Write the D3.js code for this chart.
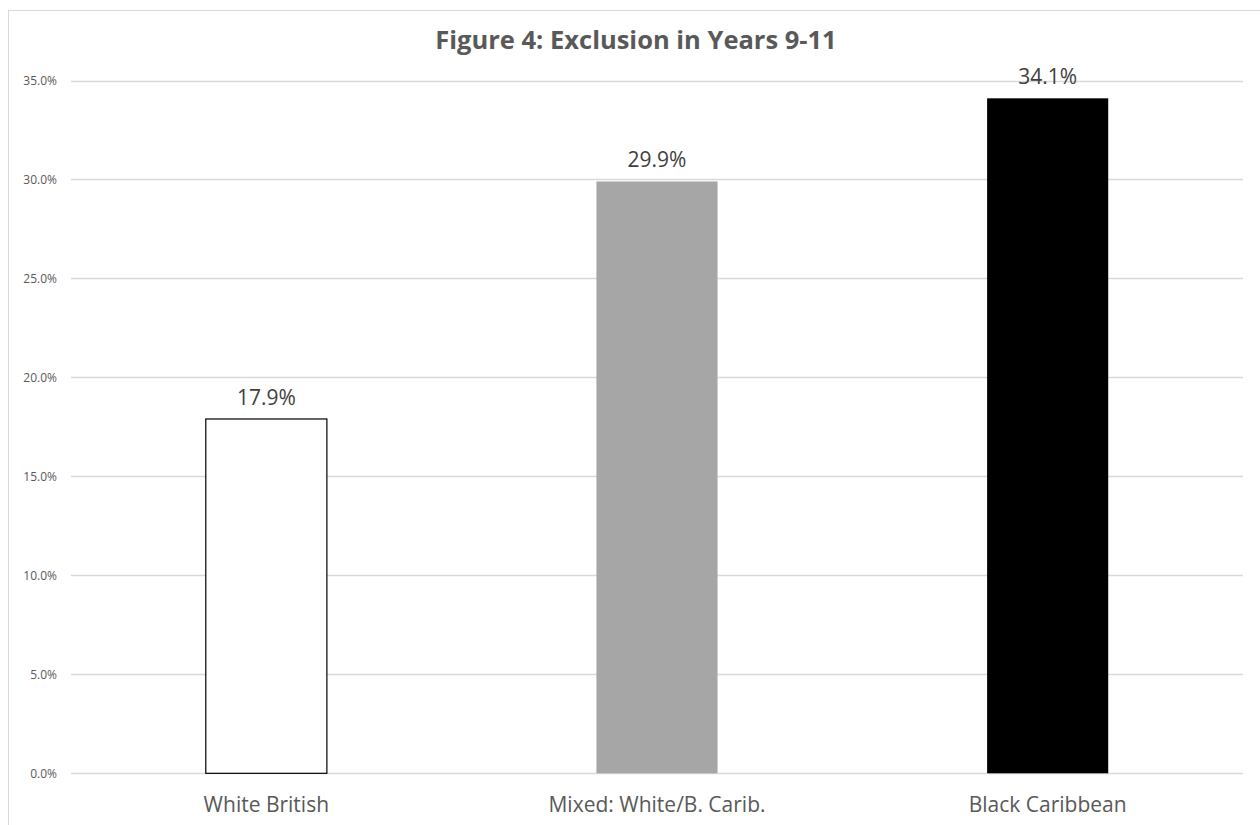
<!DOCTYPE html>
<html>
<head>
<meta charset="utf-8">
<script src="https://cdn.jsdelivr.net/npm/d3@7"></script>
<style>
  body { margin: 0; background: #fff; }
  text { font-family: "Open Sans", Lato, sans-serif; }
</style>
</head>
<body>
<div id="chart"></div>
<script>
// data
var categories = ["White British", "Mixed: White/B. Carib.", "Black Caribbean"];
var values = [17.9, 29.9, 34.1];
var barColors = ["#ffffff", "#a6a6a6", "#000000"];
var yTicks = [0, 5, 10, 15, 20, 25, 30, 35];
var title = "Figure 4: Exclusion in Years 9-11";

var w = 1260, h = 825;
var margin = {left: 71, right: 17, top: 80.5, bottom: 51.7};

var svg = d3.select("#chart").append("svg")
  .attr("width", w)
  .attr("height", h);

// chart frame
svg.append("rect")
  .attr("x", 8.5).attr("y", 10.5)
  .attr("width", w + 10).attr("height", h + 10)
  .attr("fill", "none")
  .attr("stroke", "#d9d9d9");

var x = d3.scaleBand()
  .domain(categories)
  .range([margin.left, w - margin.right])
  .paddingInner(0.69)
  .paddingOuter(0.345);

var y = d3.scaleLinear()
  .domain([0, 35])
  .range([h - margin.bottom, margin.top]);

// gridlines
svg.append("g").selectAll("line")
  .data(yTicks)
  .enter().append("line")
  .attr("x1", margin.left)
  .attr("x2", w - margin.right)
  .attr("y1", function(d) { return Math.round(y(d)) + 0.5; })
  .attr("y2", function(d) { return Math.round(y(d)) + 0.5; })
  .attr("stroke", "#d9d9d9")
  .attr("stroke-width", 1.3);

// y tick labels
svg.append("g").selectAll("text")
  .data(yTicks)
  .enter().append("text")
  .attr("x", 57)
  .attr("y", function(d) { return y(d); })
  .attr("dy", "0.35em")
  .attr("text-anchor", "end")
  .attr("fill", "#595959")
  .style("font-size", "12px")
  .text(function(d) { return d3.format(".1f")(d) + "%"; });

// bars
svg.append("g").selectAll("rect")
  .data(values)
  .enter().append("rect")
  .attr("x", function(d, i) { return x(categories[i]); })
  .attr("y", function(d) { return y(d); })
  .attr("width", x.bandwidth())
  .attr("height", function(d) { return y(0) - y(d); })
  .attr("fill", function(d, i) { return barColors[i]; })
  .attr("stroke", function(d, i) { return i == 0 ? "#000" : "none"; })
  .attr("stroke-width", 1.2);

// value labels
svg.append("g").selectAll("text")
  .data(values)
  .enter().append("text")
  .attr("x", function(d, i) { return x(categories[i]) + x.bandwidth() / 2; })
  .attr("y", function(d) { return y(d) - 14; })
  .attr("text-anchor", "middle")
  .attr("fill", "#404040")
  .style("font-size", "21px")
  .text(function(d) { return d3.format(".1f")(d) + "%"; });

// category labels
svg.append("g").selectAll("text")
  .data(categories)
  .enter().append("text")
  .attr("x", function(d) { return x(d) + x.bandwidth() / 2; })
  .attr("y", 812)
  .attr("text-anchor", "middle")
  .attr("fill", "#595959")
  .style("font-size", "21px")
  .text(function(d) { return d; });

// title
svg.append("text")
  .attr("x", 636)
  .attr("y", 49)
  .attr("text-anchor", "middle")
  .attr("fill", "#595959")
  .style("font-size", "25.5px")
  .style("font-weight", "bold")
  .text(title);
</script>
</body>
</html>
